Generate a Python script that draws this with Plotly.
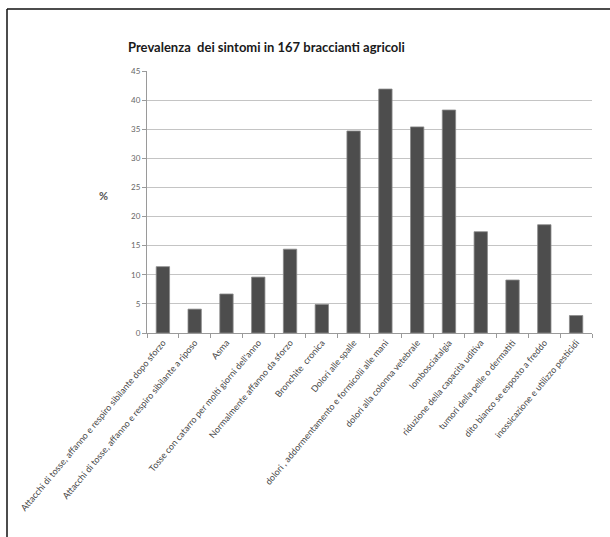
import plotly.graph_objects as go

# Symptom categories and prevalence (%) among 167 farm workers
categories = [
    "Attacchi di tosse, affanno e respiro sibilante dopo sforzo",
    "Attacchi di tosse, affanno e respiro sibilante a riposo",
    "Asma",
    "Tosse con catarro per molti giorni dell'anno",
    "Normalmente affanno da sforzo",
    "Bronchite  cronica",
    "Dolori alle spalle",
    "dolori , addormentamento e formicolii alle mani",
    "dolori alla colonna vetebrale",
    "lombosciatalgia",
    "riduzione della capacità uditiva",
    "tumori della pelle o dermatiti",
    "dito bianco se esposto a freddo",
    "inossicazione e utilizzo pesticidi",
]
prevalence = [11.4, 4.1, 6.7, 9.6, 14.4, 4.9, 34.7, 41.9, 35.4, 38.3, 17.4, 9.1, 18.6, 3.0]
y_ticks = [0, 5, 10, 15, 20, 25, 30, 35, 40, 45]

W, H = 610, 537
L, R, T, B = 147, 592, 71, 333  # plot area in pixels
pw, ph = R - L, B - T


def px(x):
    return (x - L) / pw


def py(y):
    return (B - y) / ph


label_font = "Lato, sans-serif"

fig = go.Figure(
    go.Bar(
        x=categories,
        y=prevalence,
        marker=dict(color="#4d4d4d", line=dict(color="#8a8a8a", width=0.8)),
    )
)

fig.update_layout(
    width=W,
    height=H,
    margin=dict(l=L, r=W - R, t=T, b=H - B),
    paper_bgcolor="white",
    plot_bgcolor="white",
    bargap=0.58,
    showlegend=False,
    font=dict(family=label_font, color="#555555"),
)

fig.update_xaxes(
    type="category",
    tickson="boundaries",
    ticks="outside",
    ticklen=4,
    tickcolor="#9a9a9a",
    showline=True,
    linecolor="#9a9a9a",
    linewidth=1,
    showgrid=False,
    tickangle=-50,
    tickfont=dict(size=9, color="#444444"),
)
fig.update_yaxes(
    range=[0, 45],
    tickvals=y_ticks,
    ticks="outside",
    ticklen=4,
    tickcolor="#9a9a9a",
    showline=True,
    linecolor="#9a9a9a",
    linewidth=1,
    showgrid=True,
    gridcolor="#c4c4c4",
    gridwidth=1.2,
    zeroline=False,
    tickfont=dict(size=8, color="#666666"),
)

# Title
fig.add_annotation(
    text="<b>Prevalenza  dei sintomi in 167 braccianti agricoli</b>",
    x=px(266), y=py(47), xref="paper", yref="paper",
    showarrow=False, xanchor="center", yanchor="middle",
    font=dict(family=label_font, size=13, color="#1a1a1a"),
)
# Y axis label
fig.add_annotation(
    text="<b>%</b>",
    x=px(103), y=py(195), xref="paper", yref="paper",
    showarrow=False, xanchor="center", yanchor="middle",
    font=dict(family=label_font, size=11, color="#555555"),
)

# Chart frame (top and left edges)
fig.add_shape(type="line", xref="paper", yref="paper",
              x0=px(7), y0=py(9), x1=px(620), y1=py(9),
              line=dict(color="#111111", width=1.5))
fig.add_shape(type="line", xref="paper", yref="paper",
              x0=px(7), y0=py(9), x1=px(7), y1=py(545),
              line=dict(color="#111111", width=1.5))

fig.write_html("out.html")
